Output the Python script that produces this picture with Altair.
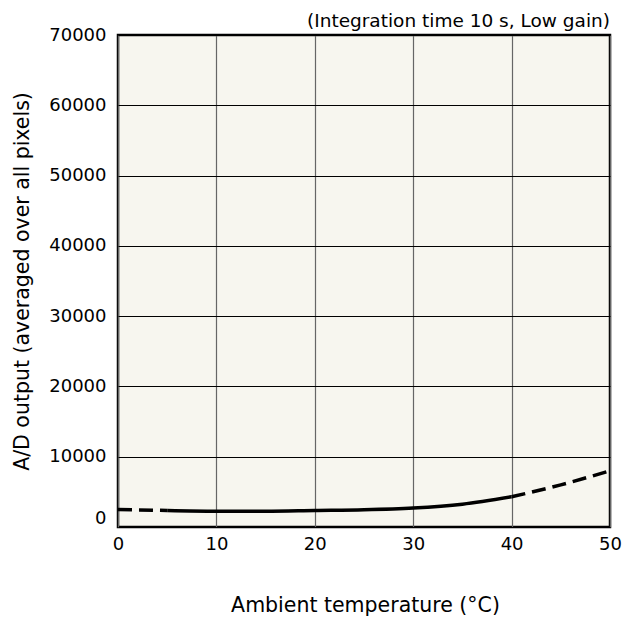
import altair as alt
import pandas as pd

temps = [0, 5, 10, 15, 20, 25, 30, 35, 40, 45, 50]
adout = [2500, 2350, 2250, 2250, 2350, 2450, 2700, 3250, 4300, 6000, 8000]
seg_left = [0, 5]
seg_right = [40, 50]
x_ticks = [0, 10, 20, 30, 40, 50]
y_ticks = [0, 10000, 20000, 30000, 40000, 50000, 60000, 70000]
subtitle = ["(Integration time 10 s, Low gain)"]

df = pd.DataFrame({"t": temps, "v": adout})

FONT = "DejaVu Sans"
xs = alt.Scale(domain=[0, 50], nice=False)
ys = alt.Scale(domain=[0, 70000], nice=False)

base = alt.Chart(df).encode(
    x=alt.X("t:Q", scale=xs, axis=alt.Axis(
        values=x_ticks, title="Ambient temperature (°C)", format="d",
        titleX=247, titleY=84, titleBaseline="alphabetic",
        labelFontSize=18, titleFontSize=20.5, labelFont=FONT, titleFont=FONT,
        titleFontWeight="normal", labelColor="black", titleColor="black",
        ticks=False, labelPadding=8, domain=False, labelFlush=False,
        grid=True, gridColor="#666666", gridWidth=1.2, gridOpacity=1)),
    y=alt.Y("v:Q", scale=ys, axis=alt.Axis(
        values=y_ticks, format="d",
        title="A/D output (averaged over all pixels)",
        titleX=-90, titleY=246, titleBaseline="alphabetic", titleAngle=-90,
        labelFontSize=18, titleFontSize=20.5, labelFont=FONT, titleFont=FONT,
        titleFontWeight="normal", labelColor="black", titleColor="black",
        labelBaseline=alt.condition("datum.value == 0", alt.value("bottom"), alt.value("middle")),
        ticks=False, labelPadding=12, domain=False, labelFlush=False,
        grid=True, gridColor="#000000", gridWidth=1, gridOpacity=1)),
)

solid = base.transform_filter(
    (alt.datum.t >= seg_left[1]) & (alt.datum.t <= seg_right[0])
).mark_line(color="black", strokeWidth=3.5, interpolate="monotone")

dash_l = base.transform_filter(
    (alt.datum.t >= seg_left[0]) & (alt.datum.t <= seg_left[1])
).mark_line(color="black", strokeWidth=3.5, strokeDash=[14, 7], interpolate="monotone")

dash_r = base.transform_filter(
    (alt.datum.t >= seg_right[0]) & (alt.datum.t <= seg_right[1])
).mark_line(color="black", strokeWidth=3.5, strokeDash=[14, 7], interpolate="monotone")

sub = alt.Chart(pd.DataFrame({"s": subtitle})).mark_text(
    align="right", baseline="alphabetic", font=FONT, fontSize=18.5, color="black"
).encode(text="s:N", x=alt.value(492), y=alt.value(-8))

chart = alt.layer(solid, dash_l, dash_r, sub).properties(
    width=492, height=492,
    autosize=alt.AutoSizeParams(type="none"),
    padding={"left": 118, "top": 35, "right": 15, "bottom": 93},
    background="white",
).configure_view(
    fill="#F7F6EF", stroke="black", strokeWidth=2.5
)

chart.save("out.html", embed_options={"renderer": "svg", "actions": False})
